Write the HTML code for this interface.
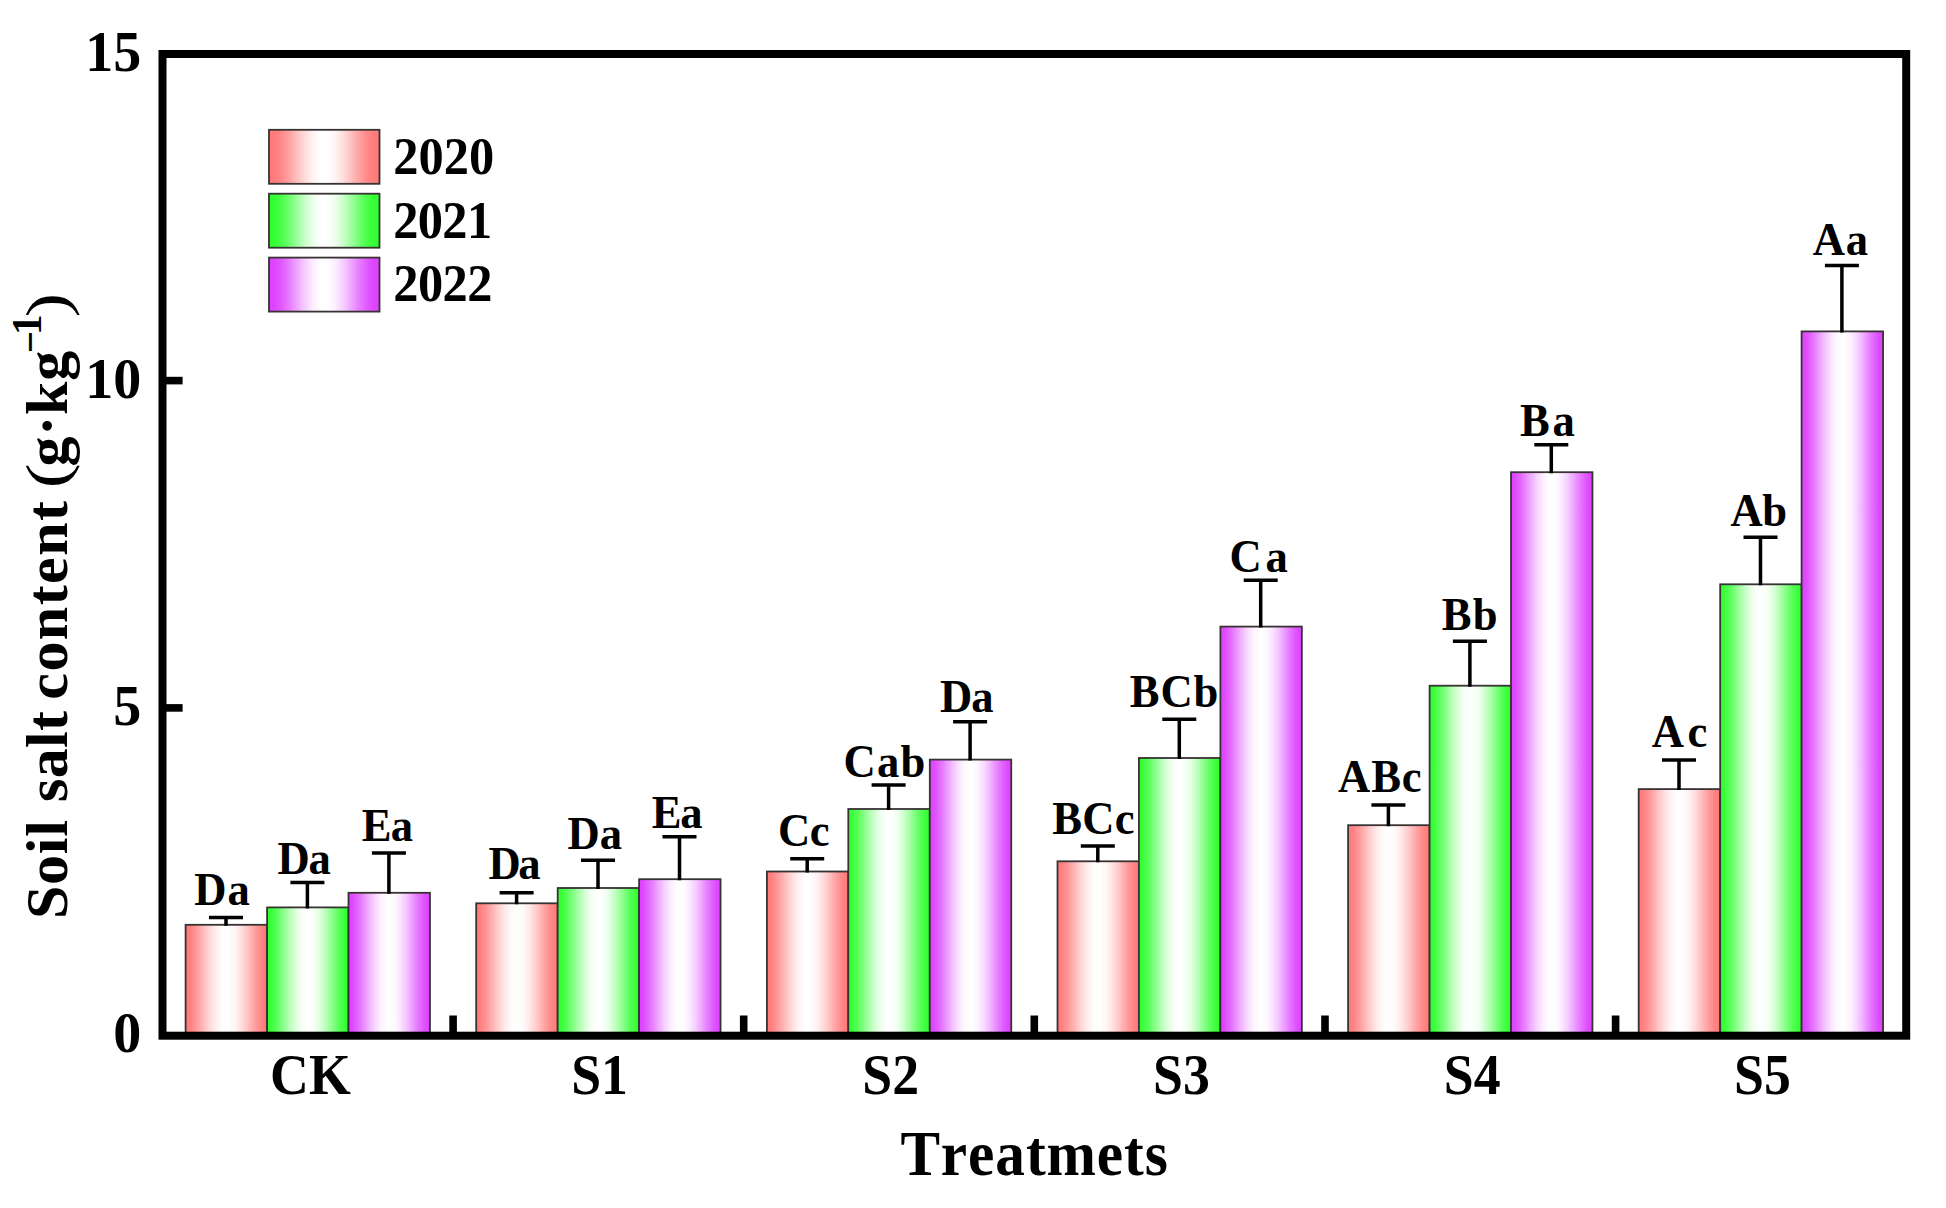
<!DOCTYPE html>
<html lang="en"><head><meta charset="utf-8"><title>Soil salt content</title>
<style>html,body{margin:0;padding:0;background:#fff}body{width:1946px;height:1208px;overflow:hidden}svg{display:block}text{font-family:"Liberation Serif","Times New Roman",serif;font-weight:bold;fill:#000;font-kerning:none}</style></head><body>
<svg width="1946" height="1208" viewBox="0 0 1946 1208">
<defs>
<linearGradient id="r" x1="0" y1="0" x2="1" y2="0"><stop offset="0.00" stop-color="#ff7878"/><stop offset="0.05" stop-color="#ff8080"/><stop offset="0.10" stop-color="#ff8e8e"/><stop offset="0.15" stop-color="#ffa0a0"/><stop offset="0.20" stop-color="#ffb3b3"/><stop offset="0.25" stop-color="#ffc7c7"/><stop offset="0.30" stop-color="#ffd9d9"/><stop offset="0.35" stop-color="#ffe9e9"/><stop offset="0.40" stop-color="#fff5f5"/><stop offset="0.45" stop-color="#fffcfc"/><stop offset="0.50" stop-color="#ffffff"/><stop offset="0.55" stop-color="#fffcfc"/><stop offset="0.60" stop-color="#fff5f5"/><stop offset="0.65" stop-color="#ffe9e9"/><stop offset="0.70" stop-color="#ffd9d9"/><stop offset="0.75" stop-color="#ffc7c7"/><stop offset="0.80" stop-color="#ffb3b3"/><stop offset="0.85" stop-color="#ffa0a0"/><stop offset="0.90" stop-color="#ff8e8e"/><stop offset="0.95" stop-color="#ff8080"/><stop offset="1.00" stop-color="#ff7878"/></linearGradient>
<linearGradient id="lr" x1="0" y1="0" x2="1" y2="0"><stop offset="0.00" stop-color="#ff7878"/><stop offset="0.05" stop-color="#ff7c7c"/><stop offset="0.10" stop-color="#ff8686"/><stop offset="0.15" stop-color="#ff9696"/><stop offset="0.20" stop-color="#ffa9a9"/><stop offset="0.25" stop-color="#ffbebe"/><stop offset="0.30" stop-color="#ffd2d2"/><stop offset="0.35" stop-color="#ffe4e4"/><stop offset="0.40" stop-color="#fff3f3"/><stop offset="0.45" stop-color="#fffcfc"/><stop offset="0.50" stop-color="#ffffff"/><stop offset="0.55" stop-color="#fffcfc"/><stop offset="0.60" stop-color="#fff3f3"/><stop offset="0.65" stop-color="#ffe4e4"/><stop offset="0.70" stop-color="#ffd2d2"/><stop offset="0.75" stop-color="#ffbebe"/><stop offset="0.80" stop-color="#ffa9a9"/><stop offset="0.85" stop-color="#ff9696"/><stop offset="0.90" stop-color="#ff8686"/><stop offset="0.95" stop-color="#ff7c7c"/><stop offset="1.00" stop-color="#ff7878"/></linearGradient>
<linearGradient id="g" x1="0" y1="0" x2="1" y2="0"><stop offset="0.00" stop-color="#2eff2e"/><stop offset="0.05" stop-color="#3aff3a"/><stop offset="0.10" stop-color="#50ff50"/><stop offset="0.15" stop-color="#6bff6b"/><stop offset="0.20" stop-color="#8aff8a"/><stop offset="0.25" stop-color="#a8ffa8"/><stop offset="0.30" stop-color="#c4ffc4"/><stop offset="0.35" stop-color="#ddffdd"/><stop offset="0.40" stop-color="#efffef"/><stop offset="0.45" stop-color="#fbfffb"/><stop offset="0.50" stop-color="#ffffff"/><stop offset="0.55" stop-color="#fbfffb"/><stop offset="0.60" stop-color="#efffef"/><stop offset="0.65" stop-color="#ddffdd"/><stop offset="0.70" stop-color="#c4ffc4"/><stop offset="0.75" stop-color="#a8ffa8"/><stop offset="0.80" stop-color="#8aff8a"/><stop offset="0.85" stop-color="#6bff6b"/><stop offset="0.90" stop-color="#50ff50"/><stop offset="0.95" stop-color="#3aff3a"/><stop offset="1.00" stop-color="#2eff2e"/></linearGradient>
<linearGradient id="lg" x1="0" y1="0" x2="1" y2="0"><stop offset="0.00" stop-color="#2eff2e"/><stop offset="0.05" stop-color="#34ff34"/><stop offset="0.10" stop-color="#44ff44"/><stop offset="0.15" stop-color="#5dff5d"/><stop offset="0.20" stop-color="#7aff7a"/><stop offset="0.25" stop-color="#9aff9a"/><stop offset="0.30" stop-color="#baffba"/><stop offset="0.35" stop-color="#d6ffd6"/><stop offset="0.40" stop-color="#ecffec"/><stop offset="0.45" stop-color="#fafffa"/><stop offset="0.50" stop-color="#ffffff"/><stop offset="0.55" stop-color="#fafffa"/><stop offset="0.60" stop-color="#ecffec"/><stop offset="0.65" stop-color="#d6ffd6"/><stop offset="0.70" stop-color="#baffba"/><stop offset="0.75" stop-color="#9aff9a"/><stop offset="0.80" stop-color="#7aff7a"/><stop offset="0.85" stop-color="#5dff5d"/><stop offset="0.90" stop-color="#44ff44"/><stop offset="0.95" stop-color="#34ff34"/><stop offset="1.00" stop-color="#2eff2e"/></linearGradient>
<linearGradient id="p" x1="0" y1="0" x2="1" y2="0"><stop offset="0.00" stop-color="#dc40ff"/><stop offset="0.05" stop-color="#de4bff"/><stop offset="0.10" stop-color="#e25fff"/><stop offset="0.15" stop-color="#e678ff"/><stop offset="0.20" stop-color="#eb94ff"/><stop offset="0.25" stop-color="#f0b0ff"/><stop offset="0.30" stop-color="#f5caff"/><stop offset="0.35" stop-color="#f9e0ff"/><stop offset="0.40" stop-color="#fcf1ff"/><stop offset="0.45" stop-color="#fefbff"/><stop offset="0.50" stop-color="#ffffff"/><stop offset="0.55" stop-color="#fefbff"/><stop offset="0.60" stop-color="#fcf1ff"/><stop offset="0.65" stop-color="#f9e0ff"/><stop offset="0.70" stop-color="#f5caff"/><stop offset="0.75" stop-color="#f0b0ff"/><stop offset="0.80" stop-color="#eb94ff"/><stop offset="0.85" stop-color="#e678ff"/><stop offset="0.90" stop-color="#e25fff"/><stop offset="0.95" stop-color="#de4bff"/><stop offset="1.00" stop-color="#dc40ff"/></linearGradient>
<linearGradient id="lp" x1="0" y1="0" x2="1" y2="0"><stop offset="0.00" stop-color="#dc40ff"/><stop offset="0.05" stop-color="#dd46ff"/><stop offset="0.10" stop-color="#e055ff"/><stop offset="0.15" stop-color="#e46bff"/><stop offset="0.20" stop-color="#e986ff"/><stop offset="0.25" stop-color="#eea3ff"/><stop offset="0.30" stop-color="#f3c0ff"/><stop offset="0.35" stop-color="#f8d9ff"/><stop offset="0.40" stop-color="#fceeff"/><stop offset="0.45" stop-color="#fefbff"/><stop offset="0.50" stop-color="#ffffff"/><stop offset="0.55" stop-color="#fefbff"/><stop offset="0.60" stop-color="#fceeff"/><stop offset="0.65" stop-color="#f8d9ff"/><stop offset="0.70" stop-color="#f3c0ff"/><stop offset="0.75" stop-color="#eea3ff"/><stop offset="0.80" stop-color="#e986ff"/><stop offset="0.85" stop-color="#e46bff"/><stop offset="0.90" stop-color="#e055ff"/><stop offset="0.95" stop-color="#dd46ff"/><stop offset="1.00" stop-color="#dc40ff"/></linearGradient>
</defs>
<rect width="1946" height="1208" fill="#fff"/>
<g stroke="#383232" stroke-width="1.8">
<rect x="185.6" y="924.8" width="81.45" height="110.9" fill="url(#r)"/>
<rect x="267.1" y="907.4" width="81.45" height="128.3" fill="url(#g)"/>
<rect x="348.5" y="892.8" width="81.45" height="142.9" fill="url(#p)"/>
<rect x="476.2" y="903.3" width="81.45" height="132.4" fill="url(#r)"/>
<rect x="557.7" y="888.0" width="81.45" height="147.7" fill="url(#g)"/>
<rect x="639.1" y="879.2" width="81.45" height="156.5" fill="url(#p)"/>
<rect x="766.9" y="871.5" width="81.45" height="164.2" fill="url(#r)"/>
<rect x="848.3" y="809.0" width="81.45" height="226.7" fill="url(#g)"/>
<rect x="929.8" y="759.6" width="81.45" height="276.1" fill="url(#p)"/>
<rect x="1057.5" y="861.3" width="81.45" height="174.4" fill="url(#r)"/>
<rect x="1138.9" y="758.0" width="81.45" height="277.7" fill="url(#g)"/>
<rect x="1220.4" y="626.6" width="81.45" height="409.1" fill="url(#p)"/>
<rect x="1348.1" y="825.2" width="81.45" height="210.5" fill="url(#r)"/>
<rect x="1429.6" y="685.7" width="81.45" height="350.0" fill="url(#g)"/>
<rect x="1511.0" y="472.2" width="81.45" height="563.5" fill="url(#p)"/>
<rect x="1638.7" y="789.1" width="81.45" height="246.6" fill="url(#r)"/>
<rect x="1720.2" y="584.3" width="81.45" height="451.4" fill="url(#g)"/>
<rect x="1801.6" y="331.4" width="81.45" height="704.3" fill="url(#p)"/>
</g>
<g stroke="#000" stroke-width="3.5" fill="none">
<path d="M226.0 925.8V917.6M209.0 917.6H243.0"/>
<path d="M307.4 908.4V882.4M290.4 882.4H324.4"/>
<path d="M388.9 893.8V852.9M371.9 852.9H405.9"/>
<path d="M516.6 904.3V892.8M499.6 892.8H533.6"/>
<path d="M598.0 889.0V860.3M581.0 860.3H615.0"/>
<path d="M679.5 880.2V836.7M662.5 836.7H696.5"/>
<path d="M807.2 872.5V858.7M790.2 858.7H824.2"/>
<path d="M888.6 810.0V785.1M871.6 785.1H905.6"/>
<path d="M970.1 760.6V721.8M953.1 721.8H987.1"/>
<path d="M1097.8 862.3V846.1M1080.8 846.1H1114.8"/>
<path d="M1179.3 759.0V719.2M1162.3 719.2H1196.3"/>
<path d="M1260.7 627.6V580.2M1243.7 580.2H1277.7"/>
<path d="M1388.4 826.2V805.0M1371.4 805.0H1405.4"/>
<path d="M1469.9 686.7V641.3M1452.9 641.3H1486.9"/>
<path d="M1551.3 473.2V444.8M1534.3 444.8H1568.3"/>
<path d="M1679.0 790.1V760.1M1662.0 760.1H1696.0"/>
<path d="M1760.5 585.3V537.2M1743.5 537.2H1777.5"/>
<path d="M1841.9 332.4V265.5M1824.9 265.5H1858.9"/>
</g>
<rect x="162.5" y="54.0" width="1743.7" height="981.7" fill="none" stroke="#000" stroke-width="8"/>
<g stroke="#000" stroke-width="7.6">
<path d="M162.5 707.9H182.6"/>
<path d="M162.5 380.6H182.6"/>
<path d="M453.1 1035.7V1015.5"/>
<path d="M743.7 1035.7V1015.5"/>
<path d="M1034.3 1035.7V1015.5"/>
<path d="M1325.0 1035.7V1015.5"/>
<path d="M1615.6 1035.7V1015.5"/>
</g>
<rect x="269" y="129.8" width="110.5" height="54" fill="url(#lr)" stroke="#383232" stroke-width="1.8"/>
<rect x="269" y="193.7" width="110.5" height="54" fill="url(#lg)" stroke="#383232" stroke-width="1.8"/>
<rect x="269" y="257.6" width="110.5" height="54" fill="url(#lp)" stroke="#383232" stroke-width="1.8"/>
<text transform="translate(194.2 905.1) scale(0.96 1)" font-size="46.5" letter-spacing="1.04">Da</text>
<text transform="translate(277.6 873.8) scale(0.96 1)" font-size="46.5" letter-spacing="-1.35">Da</text>
<text transform="translate(361.7 841.4) scale(0.96 1)" font-size="46.5" letter-spacing="-0.62">Ea</text>
<text transform="translate(488.4 879.2) scale(0.96 1)" font-size="46.5" letter-spacing="-2.6">Da</text>
<text transform="translate(567.6 849.0) scale(0.96 1)" font-size="46.5" letter-spacing="-0.1">Da</text>
<text transform="translate(651.7 828.2) scale(0.96 1)" font-size="46.5" letter-spacing="-1.35">Ea</text>
<text transform="translate(777.9 846.0) scale(0.96 1)" font-size="46.5" letter-spacing="-0.42">Cc</text>
<text transform="translate(843.4 776.5) scale(0.96 1)" font-size="46.5" letter-spacing="1.35">Cab</text>
<text transform="translate(940.1 712.1) scale(0.96 1)" font-size="46.5" letter-spacing="-1.15">Da</text>
<text transform="translate(1052.2 834.1) scale(0.96 1)" font-size="46.5" letter-spacing="0.31">BCc</text>
<text transform="translate(1129.8 707.2) scale(0.96 1)" font-size="46.5" letter-spacing="0.89">BCb</text>
<text transform="translate(1229.6 572.1) scale(0.96 1)" font-size="46.5" letter-spacing="3.75">Ca</text>
<text transform="translate(1338.1 791.8) scale(0.96 1)" font-size="46.5" letter-spacing="0.89">ABc</text>
<text transform="translate(1441.8 630.4) scale(0.96 1)" font-size="46.5" letter-spacing="1.35">Bb</text>
<text transform="translate(1520.1 435.6) scale(0.96 1)" font-size="46.5" letter-spacing="2.71">Ba</text>
<text transform="translate(1651.7 747.2) scale(0.96 1)" font-size="46.5" letter-spacing="3.65">Ac</text>
<text transform="translate(1730.5 525.6) scale(0.96 1)" font-size="46.5" letter-spacing="-0.62">Ab</text>
<text transform="translate(1812.7 254.9) scale(0.96 1)" font-size="46.5" letter-spacing="0.94">Aa</text>
<text x="85.2" y="71.4" font-size="56">15</text>
<text x="85.2" y="398.2" font-size="56">10</text>
<text x="113.2" y="724.8" font-size="56">5</text>
<text x="113.2" y="1052.0" font-size="56">0</text>
<text transform="translate(270.1 1093.9) scale(0.96 1)" font-size="56">CK</text>
<text transform="translate(571.2 1093.9) scale(0.96 1)" font-size="56">S1</text>
<text transform="translate(862.3 1093.9) scale(0.96 1)" font-size="56">S2</text>
<text transform="translate(1153.0 1093.9) scale(0.96 1)" font-size="56">S3</text>
<text transform="translate(1443.8 1093.9) scale(0.96 1)" font-size="56">S4</text>
<text transform="translate(1734.0 1093.9) scale(0.96 1)" font-size="56">S5</text>
<text transform="translate(900.4 1174.8) scale(0.95 1)" font-size="62.5" letter-spacing="0.93">Treatmets</text>
<text transform="translate(393.2 174.3) scale(0.97 1)" font-size="52" letter-spacing="0.03">2020</text>
<text transform="translate(393.2 237.7) scale(0.97 1)" font-size="52" letter-spacing="-0.65">2021</text>
<text transform="translate(393.2 300.8) scale(0.97 1)" font-size="52" letter-spacing="-0.55">2022</text>
<g transform="translate(67.2 0) rotate(-90)">
<text x="-919.0" y="0.0" font-size="60" letter-spacing="0.73">Soil</text>
<text x="-802.0" y="0.0" font-size="60" letter-spacing="0.33">salt</text>
<text x="-699.7" y="0.0" font-size="60" letter-spacing="1.45">content</text>
<text x="-466.6" y="0.0" font-size="60" letter-spacing="0.8">g·kg</text>
<text transform="translate(-488.2 0.0) scale(1.247 1)" font-size="60" style="font-weight:normal">(</text>
<text transform="translate(-352.9 -23.4) scale(0.937 1)" font-size="41.5">−</text>
<text x="-335.0" y="-26.6" font-size="41.5">1</text>
<text transform="translate(-317.2 0.0) scale(1.213 1)" font-size="60" style="font-weight:normal">)</text>
</g>
</svg></body></html>
